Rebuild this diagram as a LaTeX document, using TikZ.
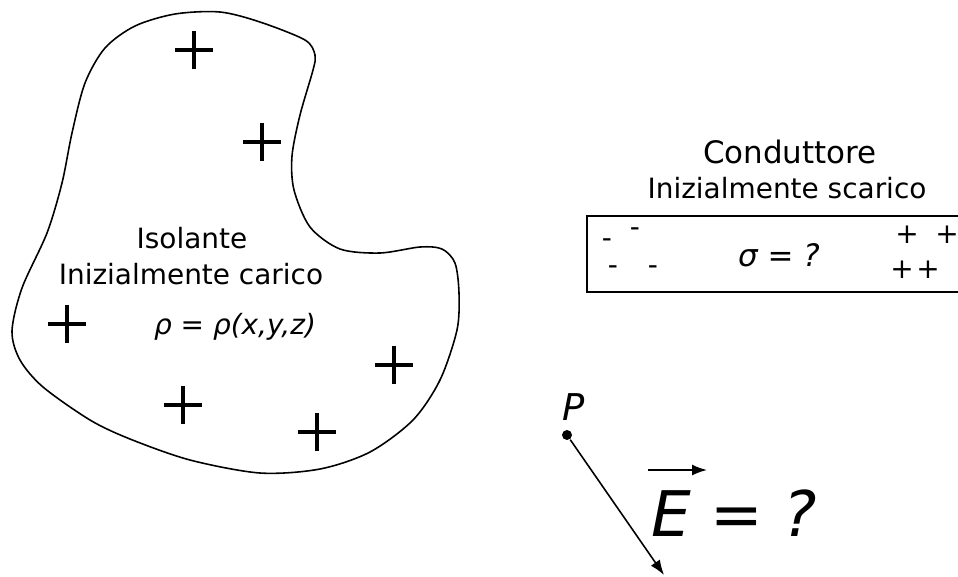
\documentclass[tikz,border=0pt]{standalone}
\usepackage{fontspec}
\setmainfont{DejaVu Sans}
\usetikzlibrary{positioning,arrows.meta}

\begin{document}
\begin{tikzpicture}[>={Latex[length=1.5mm,width=1.1mm]},
  testo/.style={font=\fontsize{7.95}{9}\selectfont, inner sep=0pt},
  titolo/.style={font=\fontsize{8.8}{10}\selectfont, inner sep=0pt},
  carica/.style={line width=1.25pt}]
  \useasboundingbox (0,0) rectangle (9.58,5.76);
  % isolante
  \draw[line width=0.45pt] plot[smooth cycle] coordinates {
    (3.13,5.06) (3.00,4.61) (2.92,4.20) (2.94,3.86) (3.10,3.49) (3.40,3.27)
    (3.80,3.23) (4.20,3.29) (4.42,3.27) (4.55,3.13) (4.59,2.83) (4.57,2.46)
    (4.40,1.96) (4.13,1.56) (3.70,1.24) (3.20,1.07) (2.60,1.03) (1.90,1.16)
    (1.30,1.37) (0.90,1.56) (0.43,1.89) (0.20,2.16) (0.12,2.45) (0.22,2.88)
    (0.47,3.43) (0.62,3.93) (0.72,4.43) (0.85,4.93) (1.05,5.28) (1.35,5.50)
    (1.75,5.62) (2.20,5.64) (2.60,5.54) (3.05,5.36) (3.15,5.21)};
  \foreach \x/\y in {1.94/5.26, 2.62/4.34, 0.67/2.52, 1.83/1.71, 3.17/1.44, 3.94/2.11}
    \draw[carica] (\x-0.19,\y) -- (\x+0.19,\y) (\x,\y-0.19) -- (\x,\y+0.19);
  \node[testo] (iso) at (1.92,3.38) {Isolante};
  \node[testo] (isocar) at (1.91,3.02) {Inizialmente carico};
  \node[testo] (rho) at (2.35,2.49) {\itshape ρ = ρ(x,y,z)};
  % conduttore
  \draw[line width=0.45pt] (9.60,3.60) -- (5.87,3.60) -- (5.87,2.84) -- (9.60,2.84);
  \node[titolo] (cond) at (7.90,4.24) {Conduttore};
  \node[testo] (condsc) at (7.87,3.88) {Inizialmente scarico};
  \node[titolo] (sigma) at (7.79,3.21) {\itshape σ = ?};
  \foreach \x/\y/\n in {6.07/3.33/m1, 6.35/3.44/m2, 6.13/3.06/m3, 6.53/3.06/m4}
    \node[testo] (\n) at (\x,\y) {-};
  \foreach \x/\y/\n in {9.07/3.41/p1, 9.47/3.41/p2, 9.02/3.06/p3, 9.28/3.06/p4}
    \node[testo] (\n) at (\x,\y) {+};
  % campo in P
  \node[font=\fontsize{10.5}{12}\selectfont\itshape, inner sep=0pt] (Plab) at (5.74,1.69) {P};
  \node[circle, fill, inner sep=0pt, minimum size=0.1cm] (P) at (5.67,1.41) {};
  \coordinate (Pend) at (6.64,0.01);
  \draw[->, line width=0.45pt] (P) -- (Pend);
  \node[font=\fontsize{17.9}{20}\selectfont\itshape, inner sep=0pt] (E) at (7.34,0.63) {E = ?};
  \coordinate (va) at (6.48,1.06);
  \coordinate (vb) at (7.07,1.06);
  \draw[->, line width=0.45pt] (va) -- (vb);
\end{tikzpicture}
\end{document}
